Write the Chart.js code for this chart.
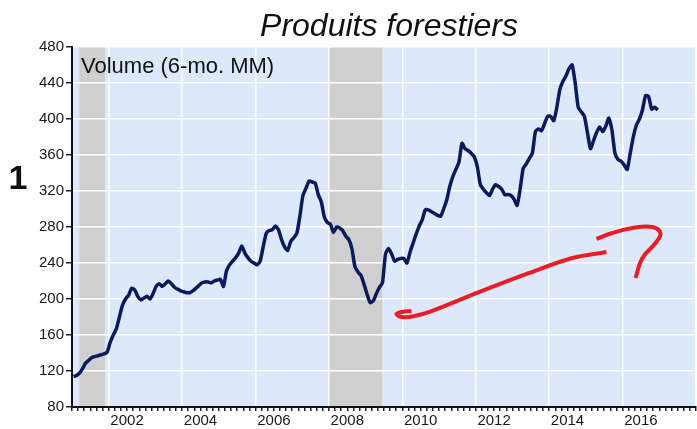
<!DOCTYPE html>
<html lang="fr">
<head>
<meta charset="UTF-8">
<title>Produits forestiers</title>
<script src="https://cdn.jsdelivr.net/npm/chart.js"></script>
<style>
    html, body { margin: 0; padding: 0; background: #fff; }
    canvas { display: block; }
</style>
</head>
<body>
<canvas id="volumeChart" width="697" height="429"></canvas>
<script>
    // Monthly volume, 6-month moving average, Jan 2001 .. Dec 2016
    const startYear = 2001;
    const volume = [
        114, 115, 118, 123, 129, 132, 135, 136, 137, 138, 139, 141,   // 2001
        152, 160, 167, 180, 193, 200, 204, 212, 210, 203, 199, 201,   // 2002
        203, 200, 206, 214, 217, 214, 217, 220, 217, 213, 211, 209,   // 2003
        208, 207, 207, 209, 212, 215, 218, 219, 219, 218, 220, 221,   // 2004
        222, 214, 231, 238, 242, 246, 251, 259, 251, 246, 242, 240,   // 2005
        238, 242, 258, 273, 276, 277, 281, 277, 266, 258, 254, 264,   // 2006
        268, 273, 292, 315, 323, 331, 330, 329, 316, 308, 291, 285,   // 2007
        283, 274, 280, 279, 276, 270, 266, 256, 236, 230, 226, 216,   // 2008
        205, 196, 198, 206, 213, 218, 250, 256, 250, 242, 244, 245,   // 2009
        245, 240, 252, 262, 272, 281, 288, 299, 299, 297, 295, 293,   // 2010
        292, 300, 310, 325, 336, 344, 352, 373, 367, 365, 362, 358,   // 2011
        347, 327, 322, 318, 315, 322, 327, 325, 322, 316, 316, 315,   // 2012
        311, 304, 322, 345, 350, 356, 362, 386, 389, 387, 395, 403,   // 2013
        403, 398, 413, 433, 442, 448, 456, 460, 440, 413, 408, 403,   // 2014
        385, 367, 376, 385, 391, 386, 392, 401, 388, 362, 355, 353,   // 2015
        349, 344, 362, 380, 393, 400, 410, 426, 425, 411, 413, 410    // 2016
    ];

    // recession periods (shaded), in fractional years
    const recessions = [[2001.2, 2001.9], [2008.0, 2009.45]];

    const yTicks = [80, 120, 160, 200, 240, 280, 320, 360, 400, 440, 480];
    const yearLabels = [2002, 2004, 2006, 2008, 2010, 2012, 2014, 2016];

    // hand-drawn red marks, in (year, value) units
    const redStroke = [
        {x: 2010.25, y: 186.7}, {x: 2009.98, y: 185.6}, {x: 2009.84, y: 183.3},
        {x: 2009.98, y: 180.0}, {x: 2010.33, y: 181.1}, {x: 2010.74, y: 185.6},
        {x: 2012.10, y: 207.8}, {x: 2013.46, y: 228.9}, {x: 2014.63, y: 245.6},
        {x: 2015.56, y: 252.2}
    ];
    const redHook = [
        {x: 2015.29, y: 266.7}, {x: 2015.72, y: 273.3}, {x: 2016.27, y: 278.9},
        {x: 2016.81, y: 280.0}, {x: 2017.03, y: 273.3}, {x: 2016.92, y: 263.3},
        {x: 2016.54, y: 245.6}, {x: 2016.35, y: 223.3}
    ];

    // bi-monthly tick marks along the time axis
    const xTickValues = [];
    for (let k = 0; k <= (2018 - startYear) * 6; k++) xTickValues.push(startYear + k / 6);

    const near = (a, b) => Math.abs(a - b) < 1e-6;

    const backdrop = {
        id: 'backdrop',
        beforeDraw(chart) {
            const {ctx, chartArea: a, scales: {x}} = chart;
            ctx.save();
            ctx.fillStyle = '#dde9fb';
            ctx.fillRect(a.left, a.top, a.right - a.left, a.bottom - a.top);
            ctx.fillStyle = '#cfcfcf';
            recessions.forEach(([from, to]) => {
                const x0 = x.getPixelForValue(from);
                const x1 = x.getPixelForValue(to);
                ctx.fillRect(x0, a.top, x1 - x0, a.bottom - a.top);
            });
            ctx.restore();
        },
        afterDraw(chart) {
            const ctx = chart.ctx;
            ctx.save();
            ctx.fillStyle = '#111';
            ctx.textBaseline = 'alphabetic';
            ctx.textAlign = 'center';
            ctx.font = 'italic 32px "Liberation Sans", Arial, sans-serif';
            ctx.fillText('Produits forestiers', 389, 36);
            ctx.font = 'bold 34px "Liberation Sans", Arial, sans-serif';
            ctx.fillText('1', 18, 189);
            ctx.textAlign = 'left';
            ctx.font = '22px "Liberation Sans", Arial, sans-serif';
            ctx.fillText('Volume (6-mo. MM)', 81, 73);
            ctx.restore();
        }
    };

    const volumeChart = new Chart(document.getElementById('volumeChart'), {
        type: 'scatter',
        data: {
            datasets: [
                {
                    data: volume.map((v, i) => ({x: startYear + (i + 0.5) / 12, y: v})),
                    showLine: true,
                    borderColor: '#0b1a5b',
                    borderWidth: 3.5,
                    pointRadius: 0,
                    tension: 0.2
                },
                {
                    data: redStroke,
                    showLine: true,
                    borderColor: '#ec1c24',
                    borderWidth: 4,
                    pointRadius: 0,
                    tension: 0.4
                },
                {
                    data: redHook,
                    showLine: true,
                    borderColor: '#ec1c24',
                    borderWidth: 4,
                    pointRadius: 0,
                    tension: 0.4
                }
            ]
        },
        options: {
            responsive: false,
            animation: false,
            layout: { padding: { top: 47, right: 0, bottom: 0, left: 0 } },
            plugins: { legend: { display: false }, tooltip: { enabled: false } },
            scales: {
                x: {
                    type: 'linear',
                    min: 2001,
                    max: 2018,
                    afterFit: s => { s.height = 22; },
                    afterBuildTicks: s => { s.ticks = xTickValues.map(v => ({value: v})); },
                    grid: {
                        color: c => (c.tick && near(c.tick.value, Math.round(c.tick.value)) && Math.round(c.tick.value) % 2 === 0) ? '#ffffff' : 'rgba(0,0,0,0)',
                        lineWidth: 1.5,
                        tickColor: '#222',
                        tickLength: 4
                    },
                    border: { color: '#111', width: 2 },
                    ticks: {
                        autoSkip: false,
                        maxRotation: 0,
                        minRotation: 0,
                        padding: 1,
                        color: '#1a1a1a',
                        font: { family: '"Liberation Sans", Arial, sans-serif', size: 15 },
                        callback: v => {
                            const y = yearLabels.find(yr => near(v, yr + 0.5));
                            return y ? String(y) : '';
                        }
                    }
                },
                y: {
                    min: 80,
                    max: 480,
                    afterFit: s => { s.width = 72; },
                    afterBuildTicks: s => { s.ticks = yTicks.map(v => ({value: v})); },
                    grid: { color: '#ffffff', lineWidth: 1.5, tickColor: '#222', tickLength: 6 },
                    border: { color: '#111', width: 2 },
                    ticks: {
                        padding: 2,
                        color: '#1a1a1a',
                        font: { family: '"Liberation Sans", Arial, sans-serif', size: 15 }
                    }
                }
            }
        },
        plugins: [backdrop]
    });
</script>
</body>
</html>
